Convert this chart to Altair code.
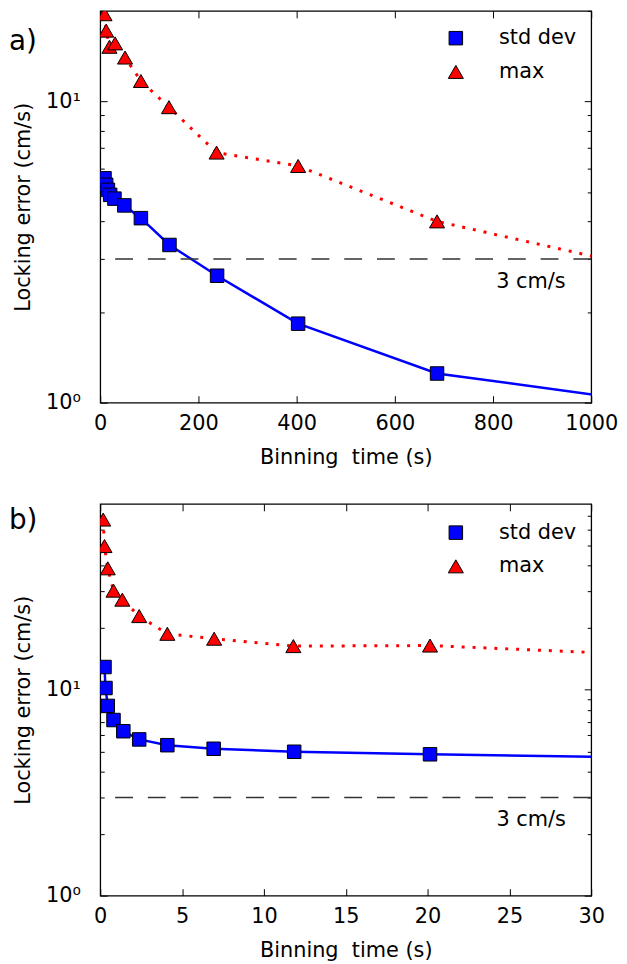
import altair as alt
import pandas as pd

# ---- panel a (binning up to 1000 s) ----
a_std_t = [8.7, 12.1, 15.6, 20.2, 28.9, 49.1, 82.8, 141, 238, 403, 686, 1166]
a_std_v = [5.56, 5.29, 5.09, 4.90, 4.76, 4.52, 4.10, 3.34, 2.64, 1.83, 1.25, 0.98]
a_max_t = [8.7, 12.1, 18.8, 30.3, 50.5, 82.8, 140, 237, 403, 686, 1166]
a_max_v = [19.5, 17.2, 15.2, 15.6, 14.0, 11.7, 9.58, 6.77, 6.11, 4.0, 2.67]

# ---- panel b (binning up to 30 s) ----
b_std_t = [0.26, 0.32, 0.46, 0.81, 1.41, 2.38, 4.1, 6.93, 11.85, 20.15, 34.2]
b_std_v = [12.9, 10.2, 8.35, 7.13, 6.29, 5.74, 5.38, 5.17, 5.0, 4.86, 4.68]
b_max_t = [0.18, 0.26, 0.46, 0.81, 1.35, 2.38, 4.1, 6.96, 11.8, 20.15, 34.2]
b_max_v = [67.1, 49.9, 38.9, 30.3, 27.4, 22.8, 18.7, 17.7, 16.3, 16.4, 14.7]

series_names = ["std dev", "max"]
series_colors = ["#0000ff", "#ff0000"]
series_shapes = ["square", "triangle-up"]
threshold = [3]
threshold_label = "3 cm/s"

a_xticks = [0, 200, 400, 600, 800, 1000]
b_xticks = [0, 5, 10, 15, 20, 25, 30]
y_major = [1, 10]
a_yminor = [2, 3, 4, 5, 6, 7, 8, 9, 20]
b_yminor = [2, 3, 4, 5, 6, 7, 8, 9, 20, 30, 40, 50, 60, 70]

FONT = "DejaVu Sans"
FS = 21
MAJ = 7
MIN = 4
W, H = 495, 395


def tick_axis(orient, values, size, labels=False, **kw):
    return alt.Axis(orient=orient, values=values, offset=-size, tickSize=size,
                    tickColor="black", tickWidth=1, domain=False, grid=False,
                    labels=labels, labelFont=FONT, labelFontSize=FS,
                    labelColor="black", labelFlush=False, labelOverlap=False,
                    titleFont=FONT, titleFontSize=FS, titleFontWeight="normal",
                    titleColor="black", **kw)


def panel(std_t, std_v, max_t, max_v, xdom, xticks, ydom, yminor,
          tag, tag_y, note_x, note_y, leg_y):
    xs = alt.Scale(domain=xdom, nice=False, zero=False)
    ys = alt.Scale(type="log", domain=ydom, nice=False)
    d_std = pd.DataFrame({"t": std_t, "v": std_v, "s": series_names[0]})
    d_max = pd.DataFrame({"t": max_t, "v": max_v, "s": series_names[1]})
    pts = pd.concat([d_std, d_max], ignore_index=True)

    blue = alt.Chart(d_std).mark_line(color=series_colors[0], strokeWidth=2.5, clip=True).encode(
        x=alt.X("t:Q", scale=xs,
                axis=tick_axis("bottom", xticks, MAJ, labels=True, labelPadding=10.5,
                               format="d", title="Binning\u00a0 time (s)", titlePadding=13)),
        y=alt.Y("v:Q", scale=ys,
                axis=tick_axis("left", y_major, MAJ, labels=True, labelPadding=20,
                               labelExpr="datum.value == 1 ? '10\u2070' : '10\u00b9'",
                               title="Locking error (cm/s)", titlePadding=12)),
    )
    red = alt.Chart(d_max).mark_line(color=series_colors[1], strokeWidth=3,
                                     strokeDash=[3, 8], clip=True).encode(
        x=alt.X("t:Q", scale=xs, axis=tick_axis("top", xticks, MAJ, title=None)),
        y=alt.Y("v:Q", scale=ys, axis=tick_axis("right", y_major, MAJ, title=None)),
    )
    rule = alt.Chart(pd.DataFrame({"v": threshold})).mark_rule(
        color="#333333", strokeWidth=1.5, strokeDash=[18, 15]).encode(
        y=alt.Y("v:Q", scale=ys, axis=tick_axis("left", yminor, MIN, title=None)),
    )
    leg = alt.Legend(orient="none", legendX=348, legendY=leg_y, title=None,
                     labelFont=FONT, labelFontSize=FS, labelColor="black",
                     symbolSize=200, symbolStrokeColor="black", symbolStrokeWidth=1,
                     labelOffset=33, rowPadding=12, padding=0)
    points = alt.Chart(pts).mark_point(filled=True, stroke="black", strokeWidth=1,
                                       opacity=1, clip=True).encode(
        x=alt.X("t:Q", scale=xs, axis=None),
        y=alt.Y("v:Q", scale=ys, axis=tick_axis("right", yminor, MIN, title=None)),
        color=alt.Color("s:N", scale=alt.Scale(domain=series_names, range=series_colors), legend=leg),
        shape=alt.Shape("s:N", scale=alt.Scale(domain=series_names, range=series_shapes), legend=leg),
        size=alt.Size("s:N", scale=alt.Scale(domain=series_names, range=[185, 230]), legend=None),
    )
    note = alt.Chart(pd.DataFrame({"t": [note_x], "v": [note_y], "l": [threshold_label]})).mark_text(
        align="right", baseline="alphabetic", font=FONT, fontSize=FS, color="black").encode(
        x=alt.X("t:Q", scale=xs, axis=None),
        y=alt.Y("v:Q", scale=ys, axis=None),
        text="l:N",
    )
    lab = alt.Chart(pd.DataFrame({"l": [tag]})).mark_text(
        align="left", baseline="alphabetic", font=FONT, fontSize=28, color="black").encode(
        x=alt.value(-92), y=alt.value(tag_y), text="l:N")

    return alt.layer(blue, red, rule, points, note, lab).resolve_axis(
        x="independent", y="independent").properties(width=W, height=H)


pa = panel(a_std_t, a_std_v, a_max_t, a_max_v, [0, 1000], a_xticks, [1, 20], a_yminor,
           "a)", 39, 948, 2.40, 17)
pb = panel(b_std_t, b_std_v, b_max_t, b_max_v, [0, 30], b_xticks, [1, 80], b_yminor,
           "b)", 25, 28.45, 2.19, 18.5)

chart = alt.vconcat(pa, pb, spacing=102, bounds="flush").resolve_scale(
    color="independent", shape="independent", size="independent").resolve_legend(
    color="independent", shape="independent").properties(
    padding={"top": -3, "left": 0, "right": 0, "bottom": 0},
    background="white").configure_view(stroke="black", strokeWidth=1.3)

chart.save("out.html", embed_options={"renderer": "svg", "actions": False})
